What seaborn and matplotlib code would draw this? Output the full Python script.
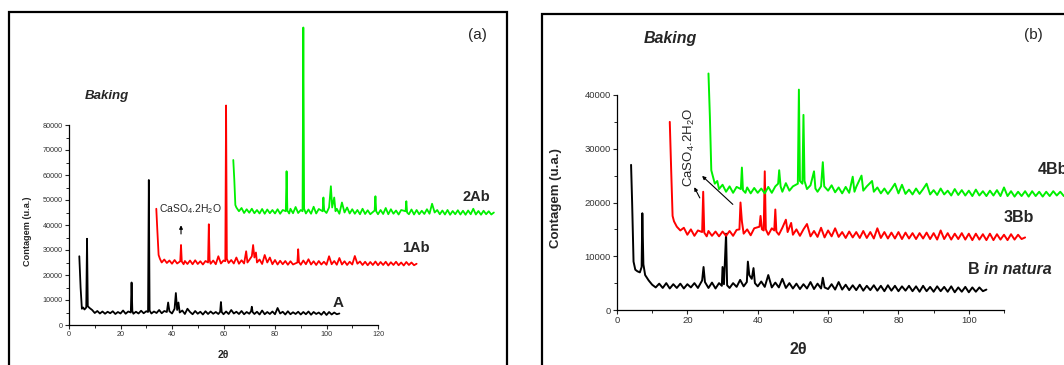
import matplotlib
matplotlib.use("Agg")
import matplotlib.pyplot as plt
from matplotlib.patches import Rectangle
from matplotlib.ticker import MultipleLocator
import seaborn as sns
import pandas as pd

# ---------------- Panel (a) data ----------------
a_black_A = [(4.0, 27500), (4.5, 15000), (5.0, 6500), (5.5, 7000), (6.0, 6200), (6.7, 7000), (7.0, 34500), (7.3, 7500),
    (8, 6800), (9, 6000), (10, 4800), (11, 5600), (12, 4600), (13, 5400), (14, 4500), (15, 5300), (16, 4700),
    (17, 5500), (18, 4400), (19, 5200), (20, 4600), (21, 5800), (22, 4500), (23, 5400), (24.0, 5000), (24.3, 17000),
    (24.6, 5600), (25, 4500), (26, 5300), (27, 4600), (28, 5700), (29, 4700), (30, 5500), (30.7, 5200), (31.0, 58000),
    (31.3, 5800), (32, 4600), (33, 5400), (34, 4800), (35, 6000), (36, 4700), (37, 5600), (38, 5200), (38.5, 9000),
    (39, 5500), (40, 4600), (41, 6500), (41.5, 12800), (42, 6000), (42.5, 9000), (43, 5000), (44, 5800), (45, 4400),
    (46, 6500), (47, 5200), (48, 4300), (49, 5600), (50, 4500), (51, 5300), (52, 4200), (53, 5500), (54, 4400),
    (55, 5400), (56, 4500), (57, 5200), (58, 4400), (58.7, 5300), (59.0, 9200), (59.3, 5200), (60, 4300), (61, 5400),
    (62, 4400), (63, 6000), (64, 4600), (65, 5300), (66, 4400), (67, 5600), (68, 4300), (69, 5200), (70, 4500),
    (70.7, 5500), (71.0, 7300), (71.3, 5200), (72, 4400), (73, 5300), (74, 4200), (75, 5800), (76, 4300), (77, 5200),
    (78, 4400), (79, 5400), (80, 4300), (81, 6800), (82, 4600), (83, 5300), (84, 4200), (85, 5500), (86, 4300),
    (87, 5100), (88, 4400), (89, 5300), (90, 4200), (91, 5200), (92, 4300), (93, 5400), (94, 4100), (95, 5200),
    (96, 4400), (97, 5000), (98, 4100), (99, 5300), (100, 4000), (101, 5200), (102, 4200), (103, 5000), (104, 4300),
    (105, 4600)]

a_red_1Ab = [(33.9, 46500), (34.3, 38000), (34.8, 28000), (35.3, 26500), (36, 25000), (37, 26200), (38, 24800),
    (39, 25800), (40, 24500), (41, 26000), (42, 24600), (43.2, 25500), (43.5, 32000), (43.8, 25400), (44.5, 24300),
    (45, 25600), (46, 24400), (47, 25800), (48, 24300), (49, 25900), (50, 24400), (51, 25500), (52, 24200),
    (53, 25600), (54.0, 25000), (54.3, 40300), (54.6, 26000), (55, 24500), (56, 25800), (57, 24300), (58, 27500),
    (59, 24600), (60, 25800), (60.7, 25500), (61.0, 87800), (61.3, 26500), (62, 24800), (63, 26000), (64, 24600),
    (65, 27000), (66, 24500), (67, 25900), (68, 24600), (68.8, 29500), (69.3, 25000), (70, 26000), (71, 27500),
    (71.5, 32000), (72, 27000), (72.6, 29000), (73, 25000), (74, 26200), (75, 24400), (76, 28000), (77, 25000),
    (78, 27000), (79, 24300), (80, 26000), (81, 24200), (82, 25700), (83, 24300), (84, 25600), (85, 24100),
    (86, 25500), (87, 24200), (88.7, 25000), (89.0, 30300), (89.3, 25200), (90, 24100), (91, 25800), (92, 24300),
    (93, 26300), (94, 24200), (95, 25500), (96, 24000), (97, 25600), (98, 24200), (99, 25300), (100, 24100),
    (101, 27500), (102, 24300), (103, 25600), (104, 24100), (105, 26800), (106, 24200), (107, 25500), (108, 24000),
    (109, 25300), (110, 24200), (111, 27600), (112, 24500), (113, 25400), (114, 24000), (115, 25300), (116, 23900),
    (117, 25200), (118, 24000), (119, 25400), (120, 23900), (121, 25200), (122, 24000), (123, 25300), (124, 23800),
    (125, 25100), (126, 24000), (127, 25300), (128, 23900), (129, 25000), (130, 23800), (131, 25200), (132, 24000),
    (133, 25000), (134, 23900), (135, 24500)]

a_green_2Ab = [(63.8, 66000), (64.2, 58000), (64.6, 48000), (65, 47000), (66, 45500), (67, 46800), (68, 44800),
    (69, 46300), (70, 44900), (71, 46500), (72, 44700), (73, 46000), (74, 44600), (75, 46400), (76, 44500),
    (77, 46200), (78, 44700), (79, 46000), (80, 44600), (81, 46300), (82, 44500), (83, 46000), (84.2, 45500),
    (84.5, 61500), (84.8, 45800), (85.5, 44600), (86, 46500), (87, 44700), (88, 47200), (89, 44800), (90, 46000),
    (90.7, 45500), (91.0, 119000), (91.3, 46500), (92, 44600), (93, 46200), (94, 44500), (95, 47300), (96, 44600),
    (97, 46400), (98.5, 45500), (98.8, 51000), (99.1, 45800), (100, 44800), (101, 47000), (101.7, 55500),
    (102.2, 47000), (103, 51000), (103.5, 45500), (104, 46500), (105, 44500), (106, 49000), (107, 45000),
    (108, 47000), (109, 44600), (110, 46300), (111, 44500), (112, 46000), (113, 44300), (114, 46500), (115, 44400),
    (116, 45900), (117, 44300), (118.7, 45800), (119.0, 51500), (119.3, 45500), (120, 44300), (121, 46000),
    (122, 44400), (123, 46800), (124, 44300), (125, 46300), (126, 44500), (127, 45800), (128, 44200), (129, 46000),
    (130.7, 45500), (131.0, 49500), (131.3, 45000), (132, 44300), (133, 46200), (134, 44200), (135, 46000),
    (136, 44300), (137, 45700), (138, 44400), (139, 46300), (140, 44500), (141, 48500), (142, 45000), (143, 46000),
    (144, 44300), (145, 45800), (146, 44200), (147, 46000), (148, 44100), (149, 45600), (150, 44300), (151, 45900),
    (152, 44200), (153, 45700), (154, 44100), (155, 45800), (156, 44300), (157, 46500), (158, 44200), (159, 45600),
    (160, 44100), (161, 45700), (162, 44300), (163, 45500), (164, 44200), (165, 45000)]

# ---------------- Panel (b) data ----------------
b_black_B = [(4.0, 27000), (4.3, 20000), (4.7, 9000), (5.2, 7500), (5.8, 7200), (6.5, 7000), (7.0, 8000), (7.2, 18000),
    (7.5, 8500), (8, 6500), (9, 5500), (10, 4700), (11, 4200), (12, 4900), (13, 4100), (14, 5000), (15, 4000),
    (16, 4800), (17, 4100), (18, 4900), (19, 4000), (20, 4800), (21, 4200), (22, 5000), (23, 4100), (24.2, 5500),
    (24.6, 8000), (25.0, 5200), (26, 4100), (27, 5100), (28, 4000), (29, 5000), (29.8, 4500), (30.0, 8000),
    (30.4, 4800), (31.0, 14200), (31.3, 4600), (32, 4100), (33, 5000), (34, 4300), (35, 5600), (36, 4400),
    (36.9, 5200), (37.2, 9000), (37.6, 6500), (38.3, 5800), (38.8, 7800), (39.2, 5000), (40, 4400), (41, 5300),
    (42, 4300), (43, 6500), (44, 4200), (45, 5100), (46, 4200), (47, 5800), (48, 4100), (49, 5000), (50, 4000),
    (51, 4900), (52, 3900), (53, 4800), (54, 4000), (55, 5200), (56, 3900), (57, 4900), (58, 4000), (58.5, 6000),
    (59, 4200), (60, 3900), (61, 4800), (62, 3800), (63, 5200), (64, 3800), (65, 4700), (66, 3700), (67, 4600),
    (68, 3700), (69, 4700), (70, 3600), (71, 4500), (72, 3700), (73, 4600), (74, 3600), (75, 4500), (76, 3500),
    (77, 4600), (78, 3600), (79, 4500), (80, 3500), (81, 4400), (82, 3600), (83, 4500), (84, 3500), (85, 4400),
    (86, 3400), (87, 4500), (88, 3500), (89, 4300), (90, 3400), (91, 4400), (92, 3500), (93, 4300), (94, 3400),
    (95, 4400), (96, 3300), (97, 4200), (98, 3400), (99, 4300), (100, 3300), (101, 4200), (102, 3400), (103, 4200),
    (104, 3500), (105, 3800)]

b_red_3Bb = [(15.0, 35000), (15.4, 26000), (15.8, 17500), (16.2, 16500), (17, 15500), (18, 14800), (19, 15300),
    (20, 14000), (21, 15000), (22, 13800), (23, 14800), (24.2, 14500), (24.5, 22000), (24.8, 14400), (25.5, 13700),
    (26, 14700), (27, 13800), (28, 14600), (29, 13700), (30, 14600), (31, 13800), (32, 14700), (33, 13800),
    (34, 14900), (34.8, 15000), (35.1, 20000), (35.5, 16500), (36, 14200), (37, 15000), (38, 13900), (39, 15200),
    (40.5, 15500), (40.8, 17500), (41.2, 15000), (41.7, 14800), (42.0, 25800), (42.3, 15000), (43, 14000),
    (44, 15200), (44.7, 14800), (45.0, 18700), (45.3, 14600), (46, 14000), (47, 15300), (48.0, 16800), (48.5, 14500),
    (49.5, 16200), (50, 14000), (51, 15000), (52, 13800), (53, 15000), (54, 16000), (55, 13700), (56, 14700),
    (57, 13600), (58, 15300), (59, 13500), (60, 14800), (61, 13700), (62, 15200), (63, 13600), (64, 14500),
    (65, 13400), (66, 14600), (67, 13500), (68, 14500), (69, 13400), (70, 14700), (71, 13400), (72, 14500),
    (73, 13300), (74, 15200), (75, 13400), (76, 14500), (77, 13300), (78, 14400), (79, 13300), (80, 14500),
    (81, 13200), (82, 14400), (83, 13300), (84, 14300), (85, 13200), (86, 14300), (87, 13300), (88, 14400),
    (89, 13200), (90, 14300), (91, 13100), (92, 14800), (93, 13200), (94, 14300), (95, 13100), (96, 14200),
    (97, 13200), (98, 14300), (99, 13100), (100, 14200), (101, 13000), (102, 14200), (103, 13100), (104, 14100),
    (105, 13000), (106, 14200), (107, 13000), (108, 14100), (109, 13100), (110, 14000), (111, 13000), (112, 14100),
    (113, 13100), (114, 14000), (115, 13200), (116, 13500)]

b_green_4Bb = [(26.0, 44000), (26.4, 36000), (26.8, 26000), (27.2, 25000), (27.8, 23500), (28.5, 24000), (29, 22500),
    (30, 23300), (31, 22000), (32, 23000), (33, 21800), (34, 22900), (35.2, 22500), (35.5, 26500), (35.8, 22300),
    (36.5, 21800), (37, 22800), (38, 21700), (39, 22700), (40, 21800), (41, 22600), (42, 21700), (43, 22900),
    (44, 21800), (45, 23000), (45.8, 23500), (46.1, 26000), (46.5, 23000), (47, 22000), (48, 23600), (49, 22200),
    (50, 23000), (51.4, 23500), (51.7, 41000), (52.0, 24000), (52.7, 23500), (53.0, 36300), (53.3, 24000),
    (54, 22500), (55, 23200), (56.0, 25800), (56.4, 22600), (57, 22000), (58, 23000), (58.5, 27500), (58.9, 23000),
    (60, 22200), (61, 23200), (62, 21900), (63, 22800), (64, 21700), (65, 22900), (66, 21800), (67.0, 24800),
    (67.5, 22000), (68, 22900), (69.5, 25000), (70, 22200), (71, 23000), (72.5, 24000), (73, 22000), (74, 22800),
    (75, 21700), (76, 22600), (77, 21600), (78, 22500), (79, 23500), (80, 21700), (81, 23300), (82, 21600),
    (83, 22400), (84, 21500), (85, 22600), (86, 21600), (87, 22500), (88, 23500), (89, 21500), (90, 22300),
    (91, 21400), (92, 22600), (93, 21500), (94, 22200), (95, 21300), (96, 22500), (97, 21400), (98, 22300),
    (99, 21300), (100, 22200), (101, 21200), (102, 22400), (103, 21300), (104, 22100), (105, 21200), (106, 22200),
    (107, 21300), (108, 22300), (109, 21200), (110, 22800), (111, 21200), (112, 22100), (113, 21100), (114, 22000),
    (115, 21200), (116, 22100), (117, 21100), (118, 22100), (119, 21200), (120, 22000), (121, 21100), (122, 22000),
    (123, 21200), (124, 22100), (125, 21300), (126, 22000), (127, 21200)]

series_colors = {"black": "#000000", "red": "#ff0000", "green": "#00f000"}
a_xticks = [0, 20, 40, 60, 80, 100, 120]
a_yticks = [0, 10000, 20000, 30000, 40000, 50000, 60000, 70000, 80000]
b_xticks = [0, 20, 40, 60, 80, 100]
b_yticks = [0, 10000, 20000, 30000, 40000]


def frame(pairs_by_color):
    rows = []
    for color, pairs in pairs_by_color.items():
        for x, y in pairs:
            rows.append({"x": x, "y": y, "series": color})
    return pd.DataFrame(rows)


sns.set_style("ticks")
plt.rcParams["font.family"] = ["Liberation Sans", "DejaVu Sans"]
plt.rcParams["mathtext.fontset"] = "custom"
plt.rcParams["mathtext.rm"] = "Liberation Sans"

W, H = 1064, 365
fig = plt.figure(figsize=(W / 100, H / 100), dpi=100)


def px_axes(left, right, bottom, top):
    return fig.add_axes([left / W, 1 - bottom / H, (right - left) / W, (bottom - top) / H])


def style_axes(ax, xticks, yticks, xlim, ylim, tick_fs, minor_x, minor_y):
    ax.set_xlim(*xlim)
    ax.set_ylim(*ylim)
    ax.set_xticks(xticks)
    ax.set_yticks(yticks)
    ax.xaxis.set_minor_locator(MultipleLocator(minor_x))
    ax.yaxis.set_minor_locator(MultipleLocator(minor_y))
    sns.despine(ax=ax)
    for s in ("left", "bottom"):
        ax.spines[s].set_linewidth(0.9)
        ax.spines[s].set_color("black")
    ax.tick_params(which="major", direction="out", length=3, width=0.8, labelsize=tick_fs,
                   labelcolor="#333333", pad=1.5)
    ax.tick_params(which="minor", direction="out", length=2, width=0.7)
    ax.set_facecolor("none")


# ---------- Panel (a) ----------
axa = px_axes(69, 378, 325, 125)
dfa = frame({"black": a_black_A, "red": a_red_1Ab, "green": a_green_2Ab})
sns.lineplot(data=dfa, x="x", y="y", hue="series", palette=series_colors, sort=False,
             estimator=None, legend=False, linewidth=1.3, ax=axa)
for ln in axa.lines:
    ln.set_clip_on(False)
style_axes(axa, a_xticks, a_yticks, (0, 120), (0, 80000), 5.2, 10, 5000)
axa.set_xlabel("2θ", fontsize=7.5, fontweight="bold", labelpad=0)
axa.xaxis.set_label_coords(0.5, -0.125)
axa.set_ylabel("Contagem (u.a.)", fontsize=6.6, fontweight="bold")
axa.yaxis.set_label_coords(-0.12, 0.47)
axa.text(153, 51200, "2Ab", fontsize=10.5, fontweight="bold", ha="left", va="center", clip_on=False)
axa.text(129.5, 30800, "1Ab", fontsize=10.5, fontweight="bold", ha="left", va="center", clip_on=False)
axa.text(102.5, 8800, "A", fontsize=11, fontweight="bold", ha="left", va="center", clip_on=False)
axa.text(47, 46500, r"CaSO$_4$.2H$_2$O", fontsize=7.5, ha="center", va="center", clip_on=False)
axa.annotate("", xy=(43.5, 41000), xytext=(43.5, 35300),
             arrowprops=dict(arrowstyle="-|>", color="black", lw=0.8, mutation_scale=5), annotation_clip=False)

# ---------- Panel (b) ----------
axb = px_axes(617, 1004, 310, 95)
dfb = frame({"black": b_black_B, "red": b_red_3Bb, "green": b_green_4Bb})
sns.lineplot(data=dfb, x="x", y="y", hue="series", palette=series_colors, sort=False,
             estimator=None, legend=False, linewidth=1.4, ax=axb)
for ln in axb.lines:
    ln.set_clip_on(False)
style_axes(axb, b_xticks, b_yticks, (0, 110), (0, 40000), 6.8, 10, 5000)
axb.set_xlabel("2θ", fontsize=11.5, fontweight="bold", labelpad=0)
axb.xaxis.set_label_coords(0.468, -0.149)
axb.set_ylabel("Contagem (u.a.)", fontsize=9.5, fontweight="bold")
axb.yaxis.set_label_coords(-0.142, 0.52)
axb.text(119.5, 26200, "4Bb", fontsize=11.5, fontweight="bold", ha="left", va="center", clip_on=False)
axb.text(110, 17300, "3Bb", fontsize=11.5, fontweight="bold", ha="left", va="center", clip_on=False)
axb.text(99.7, 7600, "B", fontsize=11.5, fontweight="bold", ha="left", va="center", clip_on=False)
axb.text(104.3, 7600, "in natura", fontsize=11.5, fontweight="bold", fontstyle="italic", ha="left", va="center",
         clip_on=False)
axb.text(20.5, 30300, r"CaSO$_4$.2H$_2$O", fontsize=9.5, rotation=90, ha="center", va="center", clip_on=False)
axb.annotate("", xy=(21.6, 23300), xytext=(23.9, 20400),
             arrowprops=dict(arrowstyle="-|>", color="black", lw=0.8, mutation_scale=5), annotation_clip=False)
axb.annotate("", xy=(23.6, 25300), xytext=(33.5, 19300),
             arrowprops=dict(arrowstyle="-|>", color="black", lw=0.8, mutation_scale=5), annotation_clip=False)

# ---------- Figure-level texts and frames ----------
fig.text(107 / W, 1 - 96 / H, "Baking", fontsize=9.5, fontweight="bold", fontstyle="italic", ha="center", va="center")
fig.text(670 / W, 1 - 38 / H, "Baking", fontsize=11.5, fontweight="bold", fontstyle="italic", ha="center", va="center")
fig.text(477 / W, 1 - 35 / H, "(a)", fontsize=11, ha="center", va="center")
fig.text(1033 / W, 1 - 35 / H, "(b)", fontsize=11, ha="center", va="center")

fig.patches.append(Rectangle((8.5 / W, -0.1), (507 - 8.5) / W, 1.1 - 12.5 / H, transform=fig.transFigure,
                             fill=False, edgecolor="black", linewidth=1.6, clip_on=False))
fig.patches.append(Rectangle((542 / W, -0.1), 0.6, 1.1 - 13.5 / H, transform=fig.transFigure,
                             fill=False, edgecolor="black", linewidth=1.6, clip_on=False))

fig.savefig("out.png", dpi=100, facecolor="white")
